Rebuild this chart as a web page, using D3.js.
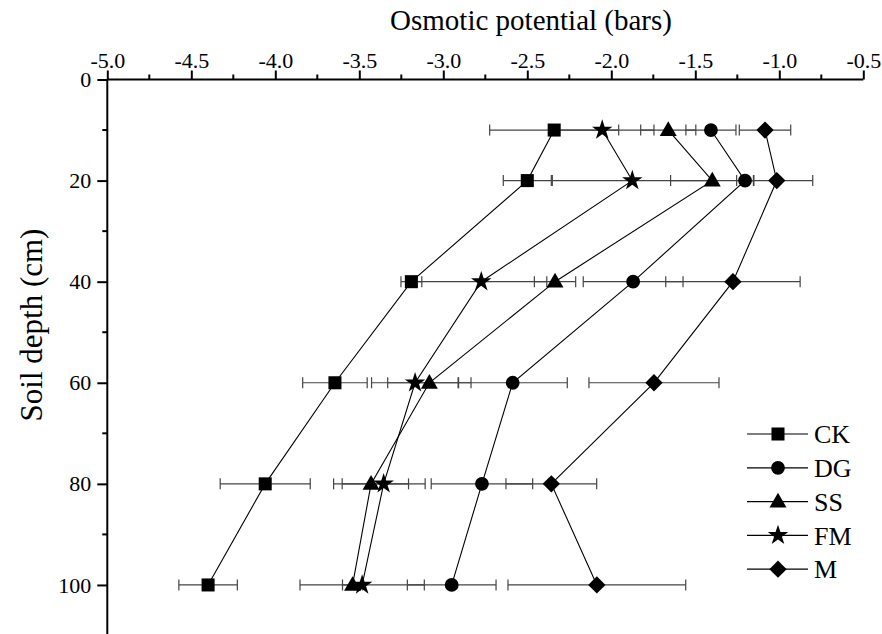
<!DOCTYPE html>
<html>
<head>
<meta charset="utf-8">
<script src="https://cdn.jsdelivr.net/npm/d3@7"></script>
<style>
  html, body { margin: 0; padding: 0; background: #fff; }
  svg { display: block; }
  svg text { font-family: "Liberation Serif", "Times New Roman", Times, "DejaVu Serif", serif !important; fill: #000; }
</style>
</head>
<body>
<svg id="chart" width="882" height="634"></svg>
<script>
// ---- data ----
const depths = [10, 20, 40, 60, 80, 100];
const seriesNames = ["CK", "DG", "SS", "FM", "M"];
const ckValues = [-2.34, -2.50, -3.19, -3.645, -4.06, -4.40];
const ckErrors = [0.384, 0.143, 0.062, 0.192, 0.268, 0.174];
const dgValues = [-1.407, -1.204, -1.87, -2.587, -2.77, -2.95];
const dgErrors = [0.149, 0.05, 0.297, 0.325, 0.302, 0.264];
const ssValues = [-1.661, -1.399, -2.335, -3.083, -3.43, -3.54];
const ssErrors = [0.164, 0.248, 0.123, 0.248, 0.223, 0.06];
const fmValues = [-2.054, -1.875, -2.774, -3.168, -3.355, -3.483];
const fmErrors = [0.308, 0.476, 0.39, 0.259, 0.247, 0.37];
const mValues = [-1.085, -1.015, -1.276, -1.746, -2.357, -2.086];
const mErrors = [0.153, 0.214, 0.40, 0.387, 0.270, 0.529];
const xTicks = [-5.0, -4.5, -4.0, -3.5, -3.0, -2.5, -2.0, -1.5, -1.0, -0.5];
const yTicks = [0, 20, 40, 60, 80, 100];
const xTitle = "Osmotic potential (bars)";
const yTitle = "Soil depth (cm)";

const symbols = ["square", "circle", "triangle", "star", "diamond"];
const valueSets = [ckValues, dgValues, ssValues, fmValues, mValues];
const errorSets = [ckErrors, dgErrors, ssErrors, fmErrors, mErrors];
const series = seriesNames.map((name, k) => ({
  name, values: valueSets[k], errors: errorSets[k], symbol: symbols[k]
}));

const FONT = '"Liberation Serif", "Times New Roman", Times, "DejaVu Serif", serif';
const svg = d3.select("#chart");
const x = d3.scaleLinear().domain([-5, -0.5]).range([107.3, 863.3]);
const y = d3.scaleLinear().domain([0, 110]).range([79.5, 635.5]);

function symbolPath(kind) {
  switch (kind) {
    case "square": return d3.symbol(d3.symbolSquare, 170)();
    case "circle": return d3.symbol(d3.symbolCircle, 150)();
    case "triangle": return d3.symbol(d3.symbolTriangle, 125)();
    case "star": return d3.symbol(d3.symbolStar, 130)();
    case "diamond": return d3.symbol(d3.symbolSquare, 150)();
  }
}
function symbolTransform(kind, px, py) {
  if (kind === "diamond") return `translate(${px},${py}) rotate(45)`;
  if (kind === "triangle") return `translate(${px},${py + 1})`;
  return `translate(${px},${py})`;
}

// ---- axes ----
const xAxis = d3.axisTop(x).tickValues(xTicks).tickFormat(d => d.toFixed(1)).tickSize(9).tickPadding(3);
const gx = svg.append("g").attr("transform", `translate(0,${y(0)})`).call(xAxis)
  .attr("font-family", FONT);
gx.select(".domain").attr("stroke-width", 2).attr("d", `M${x(-5)},0H${x(-0.5)}`);
gx.selectAll(".tick line").attr("stroke-width", 2);
gx.selectAll(".tick text").attr("font-size", 22);
const xMinor = d3.range(0, xTicks.length - 1).map(i => (xTicks[i] + xTicks[i + 1]) / 2);
gx.selectAll(".minor").data(xMinor).enter().append("line")
  .attr("x1", d => x(d)).attr("x2", d => x(d)).attr("y1", 0).attr("y2", -5)
  .attr("stroke", "#000").attr("stroke-width", 2);

const yAxis = d3.axisLeft(y).tickValues(yTicks).tickFormat(d => String(d)).tickSize(10).tickPadding(6);
const gy = svg.append("g").attr("transform", `translate(${x(-5)},0)`).call(yAxis)
  .attr("font-family", FONT);
gy.select(".domain").attr("stroke-width", 2).attr("d", `M0,${y(0)}V${y(110)}`);
gy.selectAll(".tick line").attr("stroke-width", 2);
gy.selectAll(".tick text").attr("font-size", 22);
const yMinor = [10, 30, 50, 70, 90];
gy.selectAll(".minor").data(yMinor).enter().append("line")
  .attr("x1", 0).attr("x2", -5).attr("y1", d => y(d)).attr("y2", d => y(d))
  .attr("stroke", "#000").attr("stroke-width", 2);

svg.append("text").attr("x", 531).attr("y", 30).attr("text-anchor", "middle")
  .attr("font-family", FONT).attr("font-size", 29).text(xTitle);
svg.append("text").attr("transform", `translate(42,${325}) rotate(-90)`).attr("text-anchor", "middle")
  .attr("font-family", FONT).attr("font-size", 31).text(yTitle);

// ---- error bars ----
const capH = 5.5;
series.forEach(s => {
  const g = svg.append("g").attr("class", "err");
  depths.forEach((d, i) => {
    const lo = s.values[i] - s.errors[i], hi = s.values[i] + s.errors[i];
    g.append("line").attr("x1", x(lo)).attr("x2", x(hi)).attr("y1", y(d)).attr("y2", y(d))
      .attr("stroke", "#444").attr("stroke-width", 1.2);
    [lo, hi].forEach(v => g.append("line").attr("x1", x(v)).attr("x2", x(v))
      .attr("y1", y(d) - capH).attr("y2", y(d) + capH).attr("stroke", "#444").attr("stroke-width", 1.2));
  });
});

// ---- lines ----
const line = d3.line().x(p => x(p[0])).y(p => y(p[1]));
series.forEach(s => {
  svg.append("path").attr("d", line(depths.map((d, i) => [s.values[i], d])))
    .attr("fill", "none").attr("stroke", "#000").attr("stroke-width", 1.1);
});

// ---- markers ----
series.forEach(s => {
  svg.append("g").selectAll("path").data(depths).enter().append("path")
    .attr("d", symbolPath(s.symbol))
    .attr("transform", (d, i) => symbolTransform(s.symbol, x(s.values[i]), y(d)))
    .attr("fill", "#000");
});

// ---- legend ----
const legend = svg.append("g");
const legY0 = 434, legStep = 33.8;
series.forEach((s, i) => {
  const ly = legY0 + i * legStep;
  legend.append("line").attr("x1", 747).attr("x2", 808).attr("y1", ly).attr("y2", ly)
    .attr("stroke", "#000").attr("stroke-width", 1.2);
  legend.append("path").attr("d", symbolPath(s.symbol))
    .attr("transform", symbolTransform(s.symbol, 778, ly)).attr("fill", "#000");
  legend.append("text").attr("x", 814).attr("y", ly).attr("dy", "0.35em")
    .attr("font-family", FONT).attr("font-size", 26).text(s.name);
});
</script>
</body>
</html>
